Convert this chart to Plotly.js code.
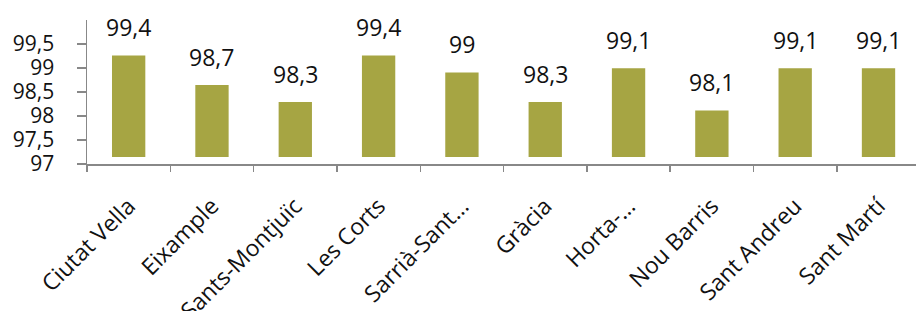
<!DOCTYPE html>
<html>
<head>
<meta charset="utf-8">
<script src="https://cdn.plot.ly/plotly-3.0.1.min.js"></script>
<style>html,body{margin:0;padding:0;background:#fff;}#chart{width:916px;height:311px;}</style>
</head>
<body>
<div id="chart"></div>
<script>
const districts = ["Ciutat Vella", "Eixample", "Sants-Montjuïc", "Les Corts", "Sarrià-Sant…", "Gràcia", "Horta-…", "Nou Barris", "Sant Andreu", "Sant Martí"];
const values = [99.4, 98.7, 98.3, 99.4, 99.0, 98.3, 99.1, 98.1, 99.1, 99.1];
const valueLabels = ["99,4", "98,7", "98,3", "99,4", "99", "98,3", "99,1", "98,1", "99,1", "99,1"];
const yTickVals = [97, 97.5, 98, 98.5, 99, 99.5];
const yTickText = ["97", "97,5", "98", "98,5", "99", "99,5"];
const barBase = 97;

const FONT = "Open Sans, Noto Sans, sans-serif";
const barColor = "#A6A543";
const axisColor = "#888888";

const barTrace = {
  type: "bar",
  x: districts,
  y: values.map(v => v - barBase),
  base: values.map(() => barBase),
  yaxis: "y2",
  marker: {color: barColor},
  hoverinfo: "skip"
};
// empty trace so that the tick axis (y) is drawn
const axisTrace = {type: "scatter", mode: "markers", x: [], y: [], yaxis: "y", hoverinfo: "skip", showlegend: false};

const annotations = districts.map((d, i) => ({
  x: d, y: values[i], xref: "x", yref: "y2",
  text: valueLabels[i], showarrow: false,
  yanchor: "bottom", yshift: 10,
  font: {family: FONT, size: 23, color: "#111"}
}));

const layout = {
  width: 916, height: 311,
  margin: {l: 87, r: 0, t: 20, b: 147},
  paper_bgcolor: "#fff", plot_bgcolor: "#fff",
  showlegend: false,
  bargap: 0.6,
  xaxis: {
    type: "category",
    categoryarray: districts, categoryorder: "array",
    range: [-0.5, 9.45],
    tickangle: -45,
    ticks: "outside", tickson: "boundaries", ticklen: 6, tickcolor: axisColor, tickwidth: 1.5,
    showline: true, linecolor: axisColor, linewidth: 1.5,
    showgrid: false, zeroline: false,
    ticklabelstandoff: 18,
    tickfont: {family: FONT, size: 23, color: "#111"}
  },
  yaxis: {
    range: [97, 100],
    tickvals: yTickVals, ticktext: yTickText,
    ticks: "outside", ticklen: 9, tickcolor: axisColor, tickwidth: 1.5,
    showline: true, linecolor: axisColor, linewidth: 1.5,
    showgrid: false, zeroline: false,
    ticklabelstandoff: 18,
    tickfont: {family: FONT, size: 21, color: "#111"}
  },
  yaxis2: {
    overlaying: "y",
    range: [96.835, 100.239],
    visible: false,
    showgrid: false, zeroline: false
  },
  annotations: annotations
};

Plotly.newPlot("chart", [axisTrace, barTrace], layout, {displayModeBar: false, staticPlot: true});
</script>
</body>
</html>
